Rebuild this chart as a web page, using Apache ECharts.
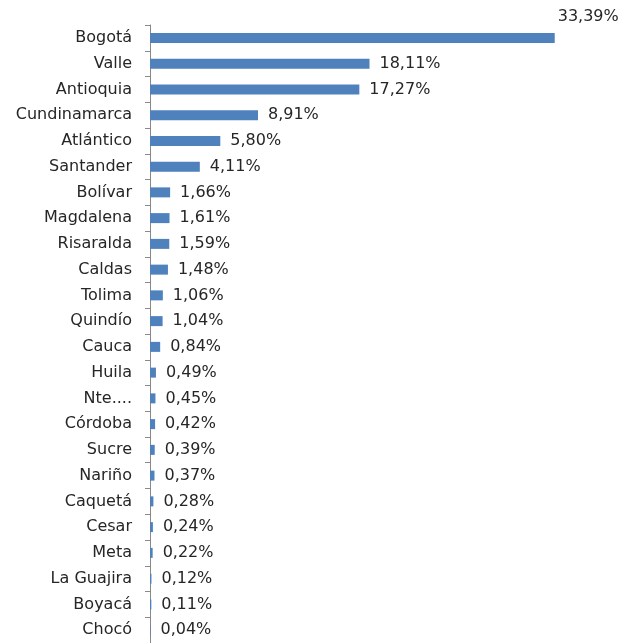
<!DOCTYPE html>
<html><head><meta charset="utf-8">
<script src="https://cdn.jsdelivr.net/npm/echarts@6/dist/echarts.min.js"></script>
<style>html,body{margin:0;padding:0;background:#fff}#c{width:622px;height:643px}</style>
</head><body><div id="c"></div>
<script>
var categories = ["Bogotá","Valle","Antioquia","Cundinamarca","Atlántico","Santander","Bolívar","Magdalena","Risaralda","Caldas","Tolima","Quindío","Cauca","Huila","Nte....","Córdoba","Sucre","Nariño","Caquetá","Cesar","Meta","La Guajira","Boyacá","Chocó"];
var values = [33.39,18.11,17.27,8.91,5.80,4.11,1.66,1.61,1.59,1.48,1.06,1.04,0.84,0.49,0.45,0.42,0.39,0.37,0.28,0.24,0.22,0.12,0.11,0.04];

var chart = echarts.init(document.getElementById('c'));
var fmt = function(v){ return v.toFixed(2).replace('.', ',') + '%'; };
var data = values.map(function(v, i){
  var d = {value: v};
  if (i === 0) d.label = {offset: [-7, -21]};
  return d;
});
var FONT = 'DejaVu Sans';
chart.setOption({
  animation: false,
  textStyle: {fontFamily: FONT},
  grid: {left: 150, top: 25, width: 460.6, height: 621},
  xAxis: {type: 'value', min: 0, max: 38, show: false},
  yAxis: {
    type: 'category', inverse: true, data: categories,
    axisLine: {show: true, lineStyle: {color: '#898989', width: 1}},
    axisTick: {show: true, length: 5, lineStyle: {color: '#898989'}},
    axisLabel: {color: '#262626', fontSize: 16, margin: 18, fontFamily: FONT},
    splitLine: {show: false}
  },
  series: [{
    type: 'bar', data: data, barWidth: 10,
    itemStyle: {color: '#4F81BD'},
    label: {show: true, position: 'right', distance: 10, color: '#262626', fontSize: 16, fontFamily: FONT,
      formatter: function(p){ return fmt(p.value); }}
  }]
});
</script></body></html>
